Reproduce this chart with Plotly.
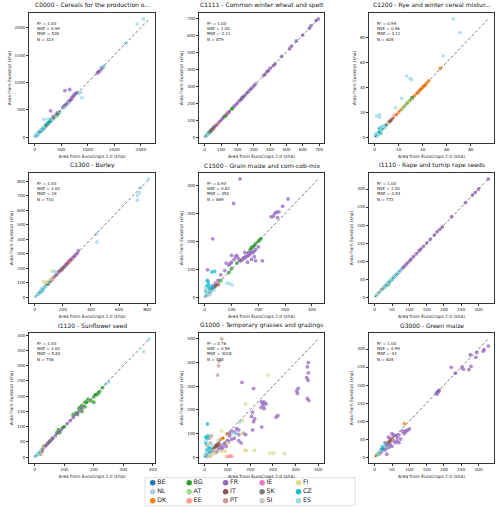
import plotly.graph_objects as go
import pandas as pd

# legend order (column-major, as in the reference)
countries = ["BE", "NL", "DK", "BG", "AT", "EE", "FR", "IT", "PT",
             "IE", "SK", "SI", "FI", "CZ", "ES"]
colors = ["#1f77b4", "#aec7e8", "#ff7f0e", "#2ca02c", "#98df8a", "#ff9896",
          "#9467bd", "#8c564b", "#c49c94", "#e377c2", "#7f7f7f", "#c7c7c7",
          "#dbdb8d", "#17becf", "#9edae5"]

titles = ["C0000 - Cereals for the production o...",
          "C1111 - Common winter wheat and spelt",
          "C1200 - Rye and winter cereal mixtur...",
          "C1300 - Barley",
          "C1500 - Grain maize and corn-cob-mix",
          "I1110 - Rape and turnip rape seeds",
          "I1120 - Sunflower seed",
          "G1000 - Temporary grasses and grazings",
          "G3000 - Green maize"]
r2 = ["1.00", "1.00", "0.99", "1.00", "0.94", "1.00", "1.00", "0.76", "1.00"]
nse = ["0.99", "1.00", "0.96", "1.00", "0.82", "1.00", "1.00", "0.56", "0.99"]
mse = ["538", "2.11", "3.11", "19", "452", "0.54", "5.83", "3018", "43"]
n_obs = [323, 879, 628, 710, 869, 772, 748, 488, 628]
x_dtick = [500, 100, 20, 200, 100, 50, 100, 100, 50]
y_dtick = [500, 100, 20, 100, 100, 50, 50, 100, 50]

c0000 = [
    ("ES", 2050, 2160), ("ES", 1930, 2065), ("ES", 1720, 1715), ("ES", 1310, 1300), ("ES", 1250, 1270),
    ("ES", 890, 720), ("ES", 870, 820), ("ES", 830, 800), ("ES", 640, 620), ("ES", 560, 540),
    ("ES", 480, 460), ("ES", 400, 380), ("ES", 330, 320), ("ES", 250, 330), ("ES", 176, 326),
    ("ES", 170, 175), ("ES", 120, 140), ("ES", 80, 70), ("ES", 40, 45), ("ES", 20, 15), ("ES", 10, 30),
    ("FR", 1200, 1190), ("FR", 1230, 1210), ("FR", 1260, 1250), ("FR", 1290, 1280), ("FR", 1180, 1170),
    ("FR", 760, 790), ("FR", 740, 770), ("FR", 720, 740), ("FR", 700, 720), ("FR", 690, 690),
    ("FR", 670, 680), ("FR", 650, 660), ("FR", 640, 640), ("FR", 620, 630), ("FR", 600, 600),
    ("FR", 580, 590), ("FR", 560, 570), ("FR", 545, 560), ("FR", 530, 540), ("FR", 800, 810),
    ("FR", 780, 800), ("FR", 570, 850), ("FR", 660, 870), ("FR", 300, 480), ("FR", 420, 440),
    ("FR", 350, 380), ("FR", 280, 290),
    ("CZ", 300, 290), ("CZ", 280, 300), ("CZ", 250, 260), ("CZ", 220, 230), ("CZ", 200, 210),
    ("CZ", 180, 170), ("CZ", 160, 150), ("CZ", 140, 140), ("CZ", 120, 110), ("CZ", 100, 100),
    ("CZ", 80, 85), ("CZ", 60, 55), ("CZ", 50, 40), ("CZ", 30, 30), ("CZ", 20, 25),
    ("BG", 420, 400), ("BG", 440, 430), ("BG", 460, 450), ("BG", 400, 390), ("BG", 380, 370), ("BG", 350, 340),
    ("DK", 200, 190), ("DK", 180, 180), ("DK", 160, 160), ("DK", 220, 210),
    ("IT", 300, 300), ("IT", 310, 320), ("EE", 90, 100), ("EE", 100, 90),
    ("FI", 140, 160), ("FI", 120, 130), ("FI", 170, 180), ("SK", 260, 250), ("SK", 240, 240),
    ("AT", 60, 60), ("AT", 70, 75), ("BE", 50, 50), ("NL", 30, 35), ("PT", 40, 35),
    ("IE", 110, 110), ("SI", 20, 20),
]

c1111 = [
    ("FR", 695, 695), ("FR", 680, 685), ("FR", 650, 655), ("FR", 640, 640), ("FR", 600, 600),
    ("FR", 560, 565), ("FR", 530, 535), ("FR", 520, 520), ("FR", 470, 475), ("FR", 430, 430),
    ("FR", 420, 420), ("FR", 400, 405), ("FR", 390, 390), ("FR", 380, 385), ("FR", 370, 370),
    ("FR", 360, 362), ("FR", 310, 312), ("FR", 300, 300), ("FR", 290, 290), ("FR", 280, 282),
    ("FR", 270, 270), ("FR", 260, 262), ("FR", 250, 250), ("FR", 240, 240), ("FR", 230, 232),
    ("FR", 220, 220), ("FR", 210, 212), ("FR", 200, 200), ("FR", 190, 190), ("FR", 180, 182),
    ("FR", 150, 150), ("FR", 140, 140), ("FR", 110, 110), ("FR", 100, 100), ("FR", 90, 90),
    ("FR", 70, 70), ("FR", 60, 62), ("FR", 50, 50),
    ("BG", 232, 234), ("BG", 225, 224), ("BG", 170, 168), ("BG", 165, 166), ("BG", 130, 128),
    ("BG", 125, 124), ("BG", 120, 122),
    ("EE", 140, 142), ("EE", 148, 147), ("IE", 135, 135),
    ("IT", 40, 40), ("IT", 30, 28), ("IT", 35, 36), ("IT", 45, 44),
    ("FI", 5, 5), ("FI", 10, 10), ("FI", 15, 14), ("FI", 20, 19),
    ("DK", 60, 60), ("DK", 80, 78), ("CZ", 25, 25), ("CZ", 20, 20), ("CZ", 12, 12),
    ("SK", 55, 55), ("SK", 45, 45), ("AT", 15, 15), ("AT", 28, 29), ("ES", 8, 8), ("ES", 18, 18),
    ("BE", 10, 10), ("NL", 6, 6), ("SI", 3, 3),
]

c1200 = [
    ("ES", 65.5, 94.5), ("ES", 71, 83.5), ("ES", 57, 65), ("ES", 26.5, 49), ("ES", 29.5, 47),
    ("ES", 30.5, 46), ("ES", 22.5, 31), ("ES", 17.5, 23.5), ("ES", 1.5, 17), ("ES", 4, 18),
    ("ES", 4, 15.7), ("ES", 8, 8), ("ES", 6, 7), ("ES", 5, 5), ("ES", 3, 2), ("ES", 2, 1),
    ("ES", 1, 3), ("ES", 7, 9), ("ES", 9, 8),
    ("DK", 54.5, 55), ("DK", 45, 45), ("DK", 43, 43), ("DK", 42, 41.5), ("DK", 41, 41),
    ("DK", 40, 40), ("DK", 39, 39), ("DK", 38, 38), ("DK", 37, 37), ("DK", 36, 35.5),
    ("DK", 35, 35), ("DK", 33, 33), ("DK", 31, 31), ("DK", 29, 29), ("DK", 27, 27),
    ("DK", 25, 25), ("DK", 22, 22), ("DK", 20, 20), ("DK", 18, 18), ("DK", 15, 15), ("DK", 12, 12),
    ("AT", 30, 30), ("AT", 28, 28), ("AT", 27, 28), ("AT", 26, 26), ("AT", 24, 24), ("AT", 23, 23),
    ("BG", 31, 31.5), ("EE", 16, 17), ("EE", 17, 18), ("IT", 13, 13),
    ("CZ", 5, 6), ("CZ", 4, 4), ("CZ", 6, 8), ("CZ", 3, 3), ("CZ", 2, 2), ("CZ", 7, 7),
    ("CZ", 1, 1), ("CZ", 5, 3), ("CZ", 4, 7), ("CZ", 8, 9),
    ("SK", 9, 9), ("SK", 10, 10), ("FI", 6, 5), ("FI", 11, 11), ("PT", 3.5, 4),
    ("BE", 2, 2), ("NL", 1.5, 1.5), ("FR", 12, 12), ("FR", 14, 14),
]

c1300 = [
    ("ES", 810, 815), ("ES", 750, 755), ("ES", 745, 720), ("ES", 730, 700), ("ES", 730, 668),
    ("ES", 440, 435), ("ES", 443, 380), ("ES", 100, 105), ("ES", 80, 75), ("ES", 60, 55),
    ("ES", 40, 45), ("ES", 30, 25), ("ES", 20, 20), ("ES", 10, 5), ("ES", 50, 60),
    ("ES", 140, 178), ("ES", 150, 170),
    ("FR", 310, 320), ("FR", 300, 300), ("FR", 290, 290), ("FR", 280, 280), ("FR", 270, 270),
    ("FR", 255, 260), ("FR", 240, 245), ("FR", 230, 230), ("FR", 220, 220), ("FR", 210, 210),
    ("FR", 195, 195), ("FR", 180, 180), ("FR", 165, 170), ("FR", 150, 150), ("FR", 140, 140),
    ("FR", 130, 130), ("FR", 110, 110), ("FR", 95, 100), ("FR", 85, 90),
    ("DK", 260, 255), ("DK", 250, 250), ("DK", 240, 235), ("DK", 225, 228), ("DK", 215, 215),
    ("DK", 205, 205), ("DK", 195, 190), ("DK", 185, 185), ("DK", 170, 175), ("DK", 160, 160),
    ("FI", 62, 106), ("FI", 86, 106), ("FI", 75, 100), ("FI", 121, 180), ("FI", 130, 130), ("FI", 110, 120),
    ("CZ", 60, 50), ("CZ", 45, 40), ("CZ", 35, 30), ("CZ", 25, 20), ("CZ", 70, 70), ("CZ", 50, 45),
    ("BG", 200, 200), ("BG", 190, 192), ("BG", 120, 120), ("EE", 110, 110), ("IT", 100, 100),
    ("SK", 90, 90), ("SK", 95, 90), ("AT", 40, 40), ("PT", 130, 125),
]

c1500 = [
    ("FR", 132, 424), ("FR", 108, 336), ("FR", 30, 209), ("FR", 311, 352), ("FR", 291, 326),
    ("FR", 277, 306), ("FR", 268, 305), ("FR", 262, 300), ("FR", 256, 290), ("FR", 248, 288),
    ("FR", 272, 285), ("FR", 200, 180), ("FR", 190, 170), ("FR", 185, 165), ("FR", 180, 160),
    ("FR", 175, 162), ("FR", 170, 155), ("FR", 165, 150), ("FR", 160, 148), ("FR", 155, 145),
    ("FR", 150, 140), ("FR", 145, 140), ("FR", 140, 135), ("FR", 135, 130), ("FR", 130, 130),
    ("FR", 120, 150), ("FR", 115, 145), ("FR", 100, 125), ("FR", 95, 120), ("FR", 90, 115),
    ("FR", 80, 122), ("FR", 11, 98), ("FR", 175, 135), ("FR", 190, 130), ("FR", 160, 125),
    ("FR", 75, 95), ("FR", 60, 80), ("FR", 50, 60), ("FR", 40, 50), ("FR", 30, 40), ("FR", 20, 30),
    ("FR", 100, 150), ("FR", 110, 135), ("FR", 125, 140), ("FR", 150, 160), ("FR", 165, 160),
    ("FR", 185, 145), ("FR", 215, 130),
    ("BG", 210, 210), ("BG", 205, 205), ("BG", 200, 200), ("BG", 190, 192), ("BG", 185, 185),
    ("BG", 180, 180), ("BG", 175, 178), ("BG", 170, 172), ("BG", 120, 122), ("BG", 100, 102),
    ("BG", 90, 88), ("BG", 60, 60),
    ("CZ", 27, 90), ("CZ", 37, 92), ("CZ", 10, 60), ("CZ", 15, 45), ("CZ", 12, 55), ("CZ", 8, 40),
    ("CZ", 20, 35), ("CZ", 25, 30), ("CZ", 5, 20), ("CZ", 18, 25), ("CZ", 30, 35),
    ("ES", 84, 49), ("ES", 93, 49), ("ES", 102, 44), ("ES", 5, 5), ("ES", 10, 12), ("ES", 15, 10),
    ("ES", 20, 15), ("ES", 3, 30), ("ES", 8, 25), ("ES", 12, 20), ("ES", 25, 20), ("ES", 35, 25), ("ES", 1, 2),
    ("SK", 20, 18), ("SK", 30, 28), ("PT", 15, 30), ("PT", 20, 12), ("IT", 40, 40), ("IT", 35, 35),
    ("IT", 50, 45), ("IE", 10, 8), ("EE", 25, 25), ("FI", 5, 8), ("AT", 60, 55), ("DK", 8, 6), ("SI", 12, 8),
]

i1110 = [
    ("FR", 328, 328), ("FR", 300, 300), ("FR", 290, 290), ("FR", 282, 283), ("FR", 262, 262),
    ("FR", 222, 223), ("FR", 195, 195), ("FR", 188, 188), ("FR", 180, 181), ("FR", 172, 172),
    ("FR", 160, 160), ("FR", 150, 150), ("FR", 140, 140), ("FR", 132, 133), ("FR", 128, 128),
    ("FR", 120, 120), ("FR", 112, 112), ("FR", 105, 105), ("FR", 100, 100), ("FR", 95, 95),
    ("FR", 90, 90), ("FR", 85, 85), ("FR", 80, 80),
    ("ES", 75, 75), ("ES", 70, 70), ("ES", 65, 65), ("ES", 60, 60), ("ES", 55, 55), ("ES", 50, 50),
    ("ES", 45, 46), ("ES", 40, 40), ("ES", 35, 35), ("ES", 30, 30), ("ES", 25, 25), ("ES", 20, 20),
    ("ES", 15, 15), ("ES", 10, 10), ("ES", 5, 5), ("ES", 3, 3),
    ("CZ", 72, 72), ("CZ", 68, 68), ("CZ", 62, 62), ("CZ", 58, 58), ("CZ", 52, 52), ("CZ", 48, 48),
    ("CZ", 42, 42), ("CZ", 38, 38), ("CZ", 33, 33), ("CZ", 28, 28),
    ("SK", 65, 64), ("SK", 55, 55), ("SK", 50, 49), ("BG", 40, 38), ("BG", 35, 35), ("BG", 38, 34),
    ("BG", 30, 30), ("FI", 10, 10), ("FI", 12, 12), ("FI", 8, 8), ("DK", 45, 45), ("AT", 25, 25),
    ("IT", 20, 21), ("NL", 5, 5),
]

i1120 = [
    ("ES", 387, 388), ("ES", 369, 346), ("ES", 250, 246), ("ES", 240, 240), ("ES", 15, 15),
    ("ES", 10, 10), ("ES", 5, 5), ("ES", 3, 3), ("ES", 20, 22), ("ES", 8, 8),
    ("BG", 230, 228), ("BG", 220, 215), ("BG", 215, 210), ("BG", 210, 205), ("BG", 205, 205),
    ("BG", 200, 198), ("BG", 200, 180), ("BG", 190, 185), ("BG", 180, 190), ("BG", 175, 180),
    ("BG", 170, 180), ("BG", 160, 170), ("BG", 170, 165), ("BG", 155, 165), ("BG", 160, 150),
    ("BG", 150, 160), ("BG", 145, 140), ("BG", 140, 145), ("BG", 130, 140), ("BG", 100, 100),
    ("BG", 95, 97), ("BG", 85, 80), ("BG", 80, 90), ("BG", 75, 80), ("BG", 60, 62), ("BG", 30, 35),
    ("FR", 160, 160), ("FR", 150, 150), ("FR", 140, 140), ("FR", 130, 130), ("FR", 120, 120),
    ("FR", 110, 110), ("FR", 90, 90), ("FR", 80, 80), ("FR", 70, 70), ("FR", 60, 60),
    ("FR", 55, 55), ("FR", 50, 50), ("FR", 45, 45), ("FR", 40, 40), ("FR", 35, 35),
    ("FR", 30, 30), ("FR", 25, 25),
    ("DK", 20, 10), ("IT", 25, 20), ("CZ", 10, 10), ("CZ", 15, 12), ("CZ", 5, 5),
    ("SK", 45, 46), ("SK", 50, 52), ("FI", 30, 30), ("AT", 15, 14),
]

g1000 = [
    ("PT", 75, 500), ("PT", 64, 405), ("PT", 61, 386), ("PT", 57, 347), ("PT", 20, 80),
    ("PT", 25, 60), ("PT", 30, 90), ("PT", 10, 50), ("PT", 40, 30),
    ("FR", 456, 400), ("FR", 452, 382), ("FR", 456, 356), ("FR", 449, 336), ("FR", 455, 325),
    ("FR", 412, 291), ("FR", 405, 280), ("FR", 408, 270), ("FR", 452, 248), ("FR", 458, 239),
    ("FR", 164, 316), ("FR", 215, 290), ("FR", 250, 235), ("FR", 255, 228), ("FR", 262, 232),
    ("FR", 258, 218), ("FR", 262, 205), ("FR", 270, 225), ("FR", 248, 210), ("FR", 210, 190),
    ("FR", 206, 172), ("FR", 220, 162), ("FR", 215, 150), ("FR", 322, 176), ("FR", 314, 169),
    ("FR", 251, 127), ("FR", 211, 115), ("FR", 120, 110), ("FR", 130, 105), ("FR", 140, 100),
    ("FR", 150, 95), ("FR", 160, 60), ("FR", 170, 100), ("FR", 180, 95), ("FR", 100, 70),
    ("FR", 90, 60), ("FR", 80, 40), ("FR", 60, 30), ("FR", 50, 20), ("FR", 70, 50),
    ("FR", 110, 90), ("FR", 130, 80), ("FR", 150, 70), ("FR", 85, 55), ("FR", 95, 45),
    ("FR", 75, 35), ("FR", 65, 40), ("FR", 140, 120), ("FR", 150, 115), ("FR", 110, 100),
    ("FR", 105, 65), ("FR", 118, 75),
    ("FI", 279, 347), ("FI", 180, 225), ("FI", 167, 154), ("FI", 351, 15), ("FI", 303, 17),
    ("FI", 287, 17), ("FI", 177, 28), ("FI", 183, 28), ("FI", 219, 28), ("FI", 80, 25),
    ("FI", 90, 25), ("FI", 65, 25), ("FI", 75, 110), ("FI", 165, 100), ("FI", 20, 5),
    ("FI", 30, 10), ("FI", 45, 15), ("FI", 100, 60),
    ("EE", 98, 3), ("EE", 108, 3), ("EE", 120, 3), ("EE", 112, 5),
    ("CZ", 12, 140), ("CZ", 5, 85), ("CZ", 10, 80), ("CZ", 15, 90), ("CZ", 5, 60), ("CZ", 20, 40),
    ("CZ", 10, 30), ("CZ", 20, 20), ("CZ", 8, 15), ("CZ", 3, 5), ("CZ", 25, 35),
    ("ES", 125, 100), ("ES", 140, 100), ("ES", 155, 148), ("ES", 5, 70), ("ES", 15, 55),
    ("ES", 10, 20), ("ES", 3, 10), ("ES", 25, 15), ("ES", 35, 50), ("ES", 60, 70),
    ("DK", 99, 99), ("DK", 70, 75), ("DK", 60, 60), ("DK", 80, 80), ("DK", 50, 45),
    ("IT", 50, 50), ("IT", 60, 55), ("IT", 40, 40), ("IT", 45, 42), ("IT", 55, 48),
    ("SK", 15, 10), ("SK", 25, 18), ("SI", 5, 5), ("SI", 8, 12), ("SI", 20, 8),
    ("IE", 10, 2), ("IE", 22, 4), ("BE", 30, 20), ("NL", 12, 25), ("AT", 35, 25),
]

g3000 = [
    ("FR", 328, 308), ("FR", 316, 298), ("FR", 313, 294), ("FR", 295, 290), ("FR", 292, 277),
    ("FR", 276, 284), ("FR", 278, 252), ("FR", 272, 243), ("FR", 252, 249), ("FR", 256, 244),
    ("FR", 233, 233), ("FR", 221, 249), ("FR", 180, 175), ("FR", 182, 180), ("FR", 185, 183),
    ("FR", 178, 178), ("FR", 186, 186), ("FR", 95, 75), ("FR", 90, 70), ("FR", 85, 65),
    ("FR", 80, 72), ("FR", 100, 78), ("FR", 88, 73), ("FR", 60, 60), ("FR", 50, 65),
    ("FR", 40, 55), ("FR", 30, 20), ("FR", 40, 40), ("FR", 60, 40), ("FR", 70, 40),
    ("FR", 45, 35), ("FR", 55, 45), ("FR", 30, 40), ("FR", 65, 45), ("FR", 75, 50),
    ("FR", 50, 30), ("FR", 35, 25), ("FR", 20, 15), ("FR", 25, 22), ("FR", 45, 50),
    ("FR", 55, 60), ("FR", 65, 55), ("FR", 70, 62), ("FR", 35, 8), ("FR", 15, 10), ("FR", 42, 28),
    ("DK", 86, 93), ("DK", 50, 53), ("DK", 40, 42),
    ("CZ", 22, 28), ("CZ", 28, 30), ("CZ", 25, 25), ("CZ", 18, 20),
    ("BG", 5, 5), ("BG", 8, 7), ("ES", 10, 10), ("ES", 15, 15), ("ES", 30, 30),
    ("SK", 33, 33), ("SK", 38, 38), ("IT", 45, 45), ("AT", 12, 12), ("FI", 4, 3),
]

panels = [c0000, c1111, c1200, c1300, c1500, i1110, i1120, g1000, g3000]

W, H = 500, 512
col_px = [(29, 155), (199, 324), (369, 494)]
row_px = [(13, 143), (173, 303), (333, 463)]
font = "DejaVu Sans"
color_of = dict(zip(countries, colors))

fig = go.Figure()
layout = {}
annotations = []

for i, pts in enumerate(panels):
    r, c = divmod(i, 3)
    sfx = "" if i == 0 else str(i + 1)
    df = pd.DataFrame(pts, columns=["country", "x", "y"])
    m = max(df["x"].max(), df["y"].max())
    rng = [-0.05 * m, 1.05 * m]

    for cc in countries:
        d = df[df["country"] == cc]
        if d.empty:
            continue
        fig.add_trace(go.Scatter(x=d["x"], y=d["y"], mode="markers", name=cc,
                                 xaxis="x" + sfx, yaxis="y" + sfx, showlegend=False,
                                 marker=dict(color=color_of[cc], size=3.8, opacity=0.75,
                                             line=dict(width=0))))
    fig.add_trace(go.Scatter(x=[0, m], y=[0, m], mode="lines", xaxis="x" + sfx, yaxis="y" + sfx,
                             showlegend=False, hoverinfo="skip",
                             line=dict(color="#444444", width=0.7, dash="3px,2px")))

    ax = dict(showline=True, mirror=True, linecolor="#333333", linewidth=0.8,
              showgrid=False, zeroline=False, ticks="outside", ticklen=2, tickwidth=0.6,
              tickcolor="#333333", tickfont=dict(size=4.2, color="#222222", family=font),
              range=rng, automargin=False)
    x0, x1 = col_px[c]
    y0, y1 = row_px[r]
    layout["xaxis" + sfx] = dict(ax, domain=[x0 / W, x1 / W], anchor="y" + sfx, dtick=x_dtick[i],
                                 title=dict(text="Area from EuroCrops 2.0 (kha)", standoff=3,
                                            font=dict(size=4.4, color="#222222", family=font)))
    layout["yaxis" + sfx] = dict(ax, domain=[1 - y1 / H, 1 - y0 / H], anchor="x" + sfx, dtick=y_dtick[i],
                                 title=dict(text="Area from Eurostat (kha)", standoff=3,
                                            font=dict(size=4.4, color="#222222", family=font)))

    annotations.append(dict(text=titles[i], xref=f"x{sfx} domain", yref=f"y{sfx} domain",
                            x=0.5, y=1, xanchor="center", yanchor="bottom", yshift=2,
                            showarrow=False, font=dict(size=6, color="#111111", family=font)))
    stats = f"R² = {r2[i]}<br>NSE = {nse[i]}<br>MSE = {mse[i]}<br>N = {n_obs[i]}"
    annotations.append(dict(text=stats, xref=f"x{sfx} domain", yref=f"y{sfx} domain",
                            x=0.05, y=0.955, xanchor="left", yanchor="top", align="left",
                            showarrow=False, font=dict(size=4, color="#222222", family=font)))

# country key drawn as a small grid (3 rows, column-major)
fig.add_trace(go.Scatter(x=[k // 3 for k in range(len(countries))],
                         y=[k % 3 for k in range(len(countries))],
                         mode="markers+text", text=countries, textposition="middle right",
                         xaxis="x10", yaxis="y10", showlegend=False, hoverinfo="skip",
                         textfont=dict(size=6.3, color="#222222", family=font),
                         marker=dict(color=colors, size=5.5)))
layout["xaxis10"] = dict(domain=[145 / W, 355 / W], anchor="y10", range=[-0.211, 5.549],
                         visible=False, automargin=False)
layout["yaxis10"] = dict(domain=[1 - 505.7 / H, 1 - 477.7 / H], anchor="x10", range=[2.556, -0.556],
                         visible=False, automargin=False)

fig.update_layout(**layout)
fig.update_layout(width=W, height=H, margin=dict(l=0, r=0, t=0, b=0, pad=0, autoexpand=False),
                  paper_bgcolor="white", plot_bgcolor="white",
                  font=dict(family=font), annotations=annotations,
                  shapes=[dict(type="rect", xref="x10 domain", yref="y10 domain",
                               x0=0, x1=1, y0=0, y1=1, line=dict(color="#d5d5d5", width=0.8),
                               layer="below")])
# the page body carries a default 8px margin; drop it so the figure fills the window
fig.write_html("out.html", config={"displayModeBar": False},
               post_script="document.body.style.margin = '0px';")
